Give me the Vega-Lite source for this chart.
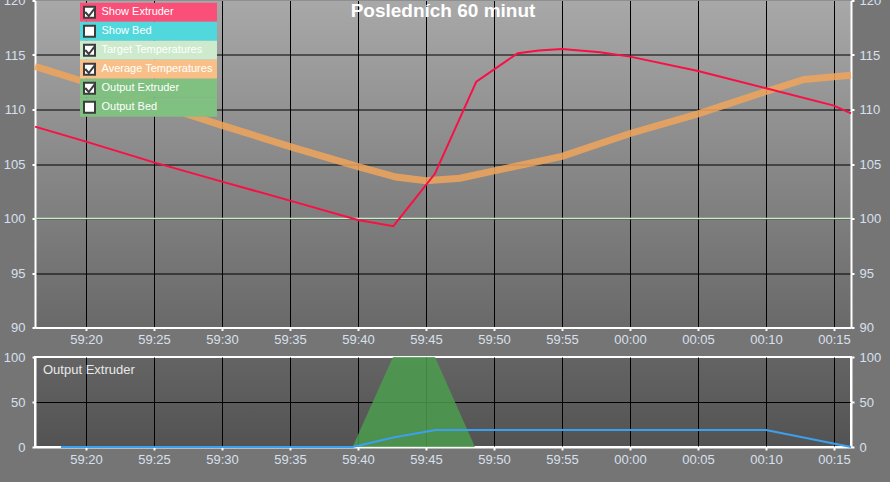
{
  "$schema": "https://vega.github.io/schema/vega-lite/v6.json",
  "background": "#757575",
  "padding": {"left": 2, "top": -5.5, "right": 10, "bottom": 16},
  "spacing": 3.5,
  "datasets": {
    "extruder": [
      {"t": 16.25, "v": 108.43}, {"t": 20, "v": 107.05}, {"t": 25, "v": 105.15}, {"t": 30, "v": 103.38},
      {"t": 35, "v": 101.64}, {"t": 40, "v": 99.86}, {"t": 42.6, "v": 99.3}, {"t": 45.65, "v": 104.1},
      {"t": 48.7, "v": 112.55}, {"t": 51.75, "v": 115.17}, {"t": 53.3, "v": 115.42}, {"t": 55, "v": 115.55},
      {"t": 57.8, "v": 115.25}, {"t": 60, "v": 114.85}, {"t": 65, "v": 113.53}, {"t": 70, "v": 111.95},
      {"t": 75, "v": 110.36}, {"t": 76.25, "v": 109.64}
    ],
    "average": [
      {"t": 16.25, "v": 113.96}, {"t": 20, "v": 112.5}, {"t": 25, "v": 110.55}, {"t": 30, "v": 108.55},
      {"t": 35, "v": 106.6}, {"t": 40, "v": 104.76}, {"t": 42.8, "v": 103.8}, {"t": 45, "v": 103.46},
      {"t": 47.5, "v": 103.7}, {"t": 50, "v": 104.37}, {"t": 55, "v": 105.7}, {"t": 60, "v": 107.8},
      {"t": 65, "v": 109.6}, {"t": 70, "v": 111.65}, {"t": 72.8, "v": 112.75}, {"t": 76.25, "v": 113.15}
    ],
    "target": [{"t": 16.25, "v": 100}, {"t": 76.25, "v": 100}],
    "output": [{"t": 39.6, "v": 0}, {"t": 42.57, "v": 100}, {"t": 45.66, "v": 100}, {"t": 48.6, "v": 0}],
    "pwm": [
      {"t": 18.16, "v": 0}, {"t": 39.6, "v": 0}, {"t": 42.6, "v": 10.5}, {"t": 45.7, "v": 19},
      {"t": 70, "v": 19}, {"t": 76.25, "v": 0}
    ],
    "legend": [
      {"item": "Show Extruder", "box": "b1"},
      {"item": "Show Bed", "box": "b2"},
      {"item": "Target Temperatures", "box": "b3"},
      {"item": "Average Temperatures", "box": "b4"},
      {"item": "Output Extruder", "box": "b5"},
      {"item": "Output Bed", "box": "b6"}
    ],
    "heading": [{"label": "Posledních 60 minut"}],
    "subheading": [{"label": "Output Extruder"}]
  },
  "config": {
    "axis": {
      "labelFont": "Liberation Sans", "labelFontSize": 13, "labelColor": "#d8e0ee",
      "domainColor": "#ffffff", "domainWidth": 2, "tickColor": "#ffffff", "tickSize": 3, "tickWidth": 2,
      "gridColor": "#000000", "gridOpacity": 1, "gridWidth": 1, "labelPadding": 4
    },
    "legend": {"padding": 0, "titlePadding": 0}
  },
  "resolve": {
    "scale": {"fill": "independent", "shape": "independent"},
    "legend": {"fill": "independent", "shape": "independent"}
  },
  "vconcat": [
    {
      "width": 816,
      "height": 327,
      "view": {
        "stroke": null,
        "fill": {"gradient": "linear", "x1": 0, "y1": 0, "x2": 0, "y2": 1,
          "stops": [{"offset": 0, "color": "#a8a8a8"}, {"offset": 1, "color": "#696969"}]}
      },
      "layer": [
        {
          "data": {"name": "target"},
          "mark": {"type": "line", "color": "#cbe9cb", "strokeWidth": 1.5},
          "encoding": {
            "x": {"field": "t", "type": "quantitative", "scale": {"domain": [16.25, 76.25], "nice": false, "zero": false},
              "axis": {"title": null, "values": [20, 25, 30, 35, 40, 45, 50, 55, 60, 65, 70, 75], "grid": true, "labelFlush": false, "labelPadding": 3,
                "labelExpr": "datum.value >= 60 ? '00:' + (datum.value < 70 ? '0' : '') + (datum.value - 60) : '59:' + datum.value"}},
            "y": {
              "field": "v", "type": "quantitative",
              "scale": {"domain": [90, 120], "nice": false, "zero": false},
              "axis": {
                "title": null, "orient": "left", "values": [90, 95, 100, 105, 110, 115, 120], "grid": true,
                "labelPadding": 7,
                "gridColor": {"condition": {"test": "datum.value >= 120 || datum.value <= 90", "value": "transparent"}, "value": "#000000"}
              }
            }
          }
        },
        {
          "data": {"name": "average"},
          "mark": {"type": "line", "color": "#f0a55a", "strokeWidth": 7, "opacity": 0.85},
          "encoding": {
            "x": {"field": "t", "type": "quantitative", "scale": {"domain": [16.25, 76.25], "nice": false, "zero": false},
              "axis": {"title": null, "values": [20, 25, 30, 35, 40, 45, 50, 55, 60, 65, 70, 75], "grid": true, "labelFlush": false, "labelPadding": 3,
                "labelExpr": "datum.value >= 60 ? '00:' + (datum.value < 70 ? '0' : '') + (datum.value - 60) : '59:' + datum.value"}},
            "y": {
              "field": "v", "type": "quantitative",
              "axis": {"title": null, "orient": "right", "values": [90, 95, 100, 105, 110, 115, 120], "grid": false, "labelPadding": 5}
            }
          }
        },
        {
          "data": {"name": "extruder"},
          "mark": {"type": "line", "color": "#fa0f45", "strokeWidth": 2},
          "encoding": {
            "x": {"field": "t", "type": "quantitative", "scale": {"domain": [16.25, 76.25], "nice": false, "zero": false},
              "axis": {"title": null, "values": [20, 25, 30, 35, 40, 45, 50, 55, 60, 65, 70, 75], "grid": true, "labelFlush": false, "labelPadding": 3,
                "labelExpr": "datum.value >= 60 ? '00:' + (datum.value < 70 ? '0' : '') + (datum.value - 60) : '59:' + datum.value"}},
            "y": {"field": "v", "type": "quantitative", "axis": null}
          }
        },
        {
          "data": {"name": "heading"},
          "mark": {"type": "text", "font": "Liberation Sans", "fontSize": 19, "fontWeight": "bold",
            "color": "#ffffff", "align": "center", "baseline": "alphabetic"},
          "encoding": {
            "x": {"datum": 46.25, "type": "quantitative", "scale": {"domain": [16.25, 76.25], "nice": false, "zero": false},
              "axis": {"title": null, "values": [20, 25, 30, 35, 40, 45, 50, 55, 60, 65, 70, 75], "grid": true, "labelFlush": false, "labelPadding": 3,
                "labelExpr": "datum.value >= 60 ? '00:' + (datum.value < 70 ? '0' : '') + (datum.value - 60) : '59:' + datum.value"}},
            "y": {"datum": 118.5, "type": "quantitative", "axis": null},
            "text": {"field": "label", "type": "nominal"}
          }
        },
        {
          "data": {"name": "legend"},
          "mark": {"type": "point", "filled": true, "opacity": 0},
          "encoding": {
            "fill": {
              "field": "item", "type": "nominal",
              "scale": {
                "domain": ["Show Extruder", "Show Bed", "Target Temperatures", "Average Temperatures", "Output Extruder", "Output Bed"],
                "range": ["#f94f78", "#50d8dc", "#cdeacd", "#f8c088", "#80c080", "#80c080"]
              },
              "legend": {
                "title": null, "orient": "none", "legendX": 45, "legendY": 2.3, "direction": "vertical",
                "symbolType": "M-1,-1H13.42V1H-1Z", "symbolSize": 361, "symbolStrokeColor": "transparent",
                "symbolStrokeWidth": 0, "symbolOpacity": 1, "rowPadding": 0, "padding": 0,
                "labelFont": "Liberation Sans", "labelFontSize": 11, "labelColor": "#ffffff", "labelOffset": 2.5,
                "zindex": 1
              }
            },
            "shape": {
              "field": "box", "type": "nominal",
              "scale": {
                "domain": ["b1", "b2", "b3", "b4", "b5", "b6"],
                "range": [
                  "M-0.647,-0.647H0.647V0.647H-0.647Z M0.588,-0.435L-0.082,0.435L-0.506,-0.035",
                  "M-0.647,-0.647H0.647V0.647H-0.647Z",
                  "M-0.647,-0.647H0.647V0.647H-0.647Z M0.588,-0.435L-0.082,0.435L-0.506,-0.035",
                  "M-0.647,-0.647H0.647V0.647H-0.647Z M0.588,-0.435L-0.082,0.435L-0.506,-0.035",
                  "M-0.647,-0.647H0.647V0.647H-0.647Z M0.588,-0.435L-0.082,0.435L-0.506,-0.035",
                  "M-0.647,-0.647H0.647V0.647H-0.647Z"
                ]
              },
              "legend": {
                "title": null, "orient": "none", "legendX": 45, "legendY": 2.3, "direction": "vertical",
                "symbolSize": 289, "symbolFillColor": "#ffffff", "symbolStrokeColor": "#3c3c3c",
                "symbolStrokeWidth": 2, "symbolOpacity": 1, "rowPadding": 0, "padding": 0,
                "labelExpr": "''", "labelFontSize": 11, "labelOffset": 2,
                "zindex": 2
              }
            }
          }
        }
      ],
      "resolve": {"axis": {"y": "independent"}}
    },
    {
      "width": 816,
      "height": 90,
      "view": {
        "stroke": "#ffffff",
        "strokeWidth": 2,
        "fill": {"gradient": "linear", "x1": 0, "y1": 0, "x2": 0, "y2": 1,
          "stops": [{"offset": 0, "color": "#646464"}, {"offset": 1, "color": "#535353"}]}
      },
      "layer": [
        {
          "data": {"name": "output"},
          "mark": {"type": "area", "color": "#4b9d4d", "opacity": 0.85},
          "encoding": {
            "x": {"field": "t", "type": "quantitative", "scale": {"domain": [16.25, 76.25], "nice": false, "zero": false},
              "axis": {"title": null, "values": [20, 25, 30, 35, 40, 45, 50, 55, 60, 65, 70, 75], "grid": true, "labelFlush": false, "labelPadding": 3,
                "labelExpr": "datum.value >= 60 ? '00:' + (datum.value < 70 ? '0' : '') + (datum.value - 60) : '59:' + datum.value"}},
            "y": {
              "field": "v", "type": "quantitative",
              "scale": {"domain": [0, 100], "nice": false},
              "axis": {
                "title": null, "orient": "left", "values": [0, 50, 100], "grid": true, "labelPadding": 7,
                "gridColor": {"condition": {"test": "datum.value == 50", "value": "#000000"}, "value": "transparent"}
              }
            }
          }
        },
        {
          "data": {"name": "pwm"},
          "mark": {"type": "line", "color": "#3ca0f0", "strokeWidth": 2},
          "encoding": {
            "x": {"field": "t", "type": "quantitative", "scale": {"domain": [16.25, 76.25], "nice": false, "zero": false},
              "axis": {"title": null, "values": [20, 25, 30, 35, 40, 45, 50, 55, 60, 65, 70, 75], "grid": true, "labelFlush": false, "labelPadding": 3,
                "labelExpr": "datum.value >= 60 ? '00:' + (datum.value < 70 ? '0' : '') + (datum.value - 60) : '59:' + datum.value"}},
            "y": {
              "field": "v", "type": "quantitative",
              "axis": {"title": null, "orient": "right", "values": [0, 50, 100], "grid": false, "labelPadding": 5}
            }
          }
        },
        {
          "data": {"name": "subheading"},
          "mark": {"type": "text", "font": "Liberation Sans", "fontSize": 13, "color": "#e8e8e8",
            "align": "left", "baseline": "alphabetic", "dx": 8},
          "encoding": {
            "x": {"datum": 16.25, "type": "quantitative", "scale": {"domain": [16.25, 76.25], "nice": false, "zero": false},
              "axis": {"title": null, "values": [20, 25, 30, 35, 40, 45, 50, 55, 60, 65, 70, 75], "grid": true, "labelFlush": false, "labelPadding": 3,
                "labelExpr": "datum.value >= 60 ? '00:' + (datum.value < 70 ? '0' : '') + (datum.value - 60) : '59:' + datum.value"}},
            "y": {"datum": 80.6, "type": "quantitative", "axis": null},
            "text": {"field": "label", "type": "nominal"}
          }
        }
      ],
      "resolve": {"axis": {"y": "independent"}}
    }
  ]
}
